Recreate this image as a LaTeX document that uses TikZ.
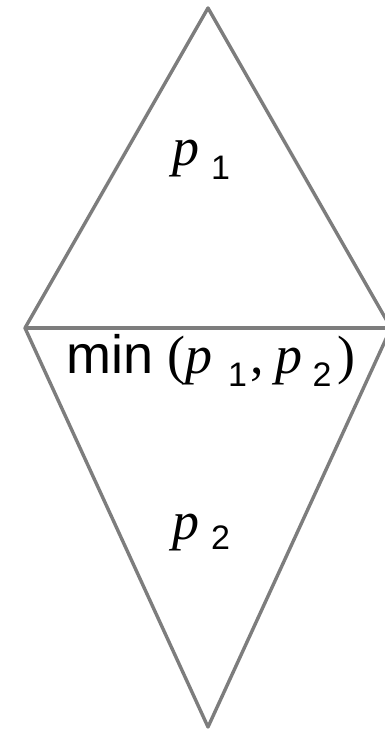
\documentclass[tikz,border=0pt]{standalone}
\usepackage{fontspec}
\setmainfont{Liberation Serif}
\setsansfont{Liberation Sans}
\newcommand\mysub[2][13pt]{\raisebox{-#1}{\fontsize{34}{34}\selectfont\sffamily #2}}
\newcommand\myp{{\itshape p}}
\tikzset{
  edge/.style={draw={rgb,255:red,125;green,125;blue,125}, line width=3.4pt, line join=round},
  lab/.style={inner sep=0pt, anchor=base west, font=\fontsize{54}{54}\selectfont}
}
\begin{document}
\begin{tikzpicture}[x=1pt,y=-1pt]
\useasboundingbox[fill=white] (0,0) rectangle (385,730);
\coordinate (T) at (208,8);
\coordinate (L) at (25,328);
\coordinate (R) at (391,328);
\coordinate (B) at (208,727);
\draw[edge] (T) -- (L) -- (B) -- (R) -- cycle;
\draw[edge] (L) -- (R);
\node[lab] (p1) at (172,165) {\myp\hspace{12pt}\mysub[14pt]{1}};
\node[lab] (p2) at (172,539) {\myp\hspace{12pt}\mysub[10pt]{2}};
\node[lab] (mn) at (66,373) {{\sffamily min}\hspace{14pt}(\myp\hspace{16pt}\mysub{1}\hspace{3pt},\hspace{12pt}\myp\hspace{10pt}\mysub{2}\hspace{6pt})};
\end{tikzpicture}
\end{document}
